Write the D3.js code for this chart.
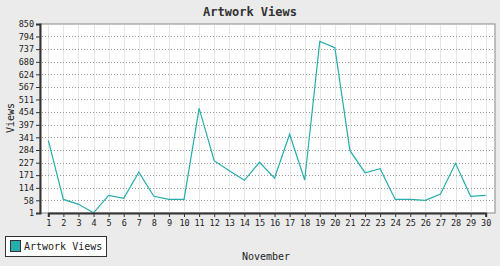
<!DOCTYPE html>
<html>
<head>
<meta charset="utf-8">
<script src="https://cdn.jsdelivr.net/npm/d3@7"></script>
<style>
  body { margin: 0; background: #ebebeb; }
  svg { display: block; }
</style>
</head>
<body>
<div id="chart"></div>
<script>
// data
var days = d3.range(1, 31)
var views = [327, 62, 40, 2, 80, 67, 184, 76, 62, 62,
             471, 236, 191, 148, 229, 158, 355, 149, 772, 744,
             281, 182, 200, 62, 62, 58, 86, 224, 76, 80]
var yTicks = [1, 58, 114, 171, 227, 284, 341, 397, 454, 511, 567, 624, 680, 737, 794, 850]
var seriesName = "Artwork Views"

var W = 500, H = 266
var plotL = 40, plotR = 495, plotT = 24, plotB = 213
var font = "'DejaVu Sans Mono', 'Liberation Mono', monospace"
var lineColor = "#27adab"

var svg = d3.select("#chart").append("svg").attr("width", W).attr("height", H)

svg.append("rect").attr("width", W).attr("height", H).attr("fill", "#ebebeb")
svg.append("rect")
  .attr("x", plotL).attr("y", plotT)
  .attr("width", plotR - plotL).attr("height", plotB - plotT)
  .attr("fill", "#fff").attr("stroke", "#999").attr("stroke-width", 1.2)

var xs = d3.scaleLinear().domain([1, 30]).range([48.3, 485.7])
var ys = d3.scaleLinear().domain([1, 850]).range([plotB, plotT])

// vertical grid
svg.append("g").selectAll("line").data(days).enter().append("line")
  .attr("x1", d => Math.round(xs(d)) + 0.5).attr("x2", d => Math.round(xs(d)) + 0.5)
  .attr("y1", plotT + 1).attr("y2", plotB)
  .attr("stroke", "#e6e6e6").attr("stroke-width", 1)

// horizontal dotted grid
svg.append("g").selectAll("line").data(yTicks.slice(1, -1)).enter().append("line")
  .attr("x1", plotL + 2).attr("x2", plotR)
  .attr("y1", d => Math.round(ys(d)) + 0.5).attr("y2", d => Math.round(ys(d)) + 0.5)
  .attr("stroke", "#999").attr("stroke-dasharray", "1,2")

// line
var line = d3.line().x((d, i) => xs(days[i])).y(d => ys(d))
svg.append("path").datum(views)
  .attr("d", line)
  .attr("fill", "none").attr("stroke", lineColor).attr("stroke-width", 1.2)

// axes
var yAxis = svg.append("g")
  .attr("transform", "translate(" + plotL + ",0)")
  .call(d3.axisLeft(ys).tickValues(yTicks).tickSize(4).tickPadding(2).tickFormat(d3.format("d")))
var xAxis = svg.append("g")
  .attr("transform", "translate(0," + plotB + ")")
  .call(d3.axisBottom(xs).tickValues(days).tickSize(4).tickPadding(3).tickFormat(d3.format("d")))

;[yAxis, xAxis].forEach(function (ax) {
  ax.select(".domain").attr("stroke", "#333").attr("stroke-width", 2)
  ax.selectAll(".tick line").attr("stroke", "#333")
  ax.selectAll("text").style("font-family", font).style("font-size", "8.5px").attr("fill", "#222")
})

// title and axis labels
svg.append("text").attr("x", 250).attr("y", 16).attr("text-anchor", "middle")
  .style("font-family", font).style("font-size", "12px").style("font-weight", "bold")
  .attr("fill", "#333").text("Artwork Views")

svg.append("text").attr("transform", "translate(14,118) rotate(-90)").attr("text-anchor", "middle")
  .style("font-family", font).style("font-size", "10px").attr("fill", "#222").text("Views")

svg.append("text").attr("x", 266).attr("y", 260).attr("text-anchor", "middle")
  .style("font-family", font).style("font-size", "10px").attr("fill", "#222").text("November")

// legend
var lg = svg.append("g")
lg.append("rect").attr("x", 5.5).attr("y", 236.5).attr("width", 101).attr("height", 20)
  .attr("fill", "#fff").attr("stroke", "#333").attr("stroke-width", 1)
lg.append("rect").attr("x", 10.5).attr("y", 240.5).attr("width", 10).attr("height", 11)
  .attr("fill", lineColor).attr("stroke", "#333").attr("stroke-width", 1)
lg.append("text").attr("x", 24).attr("y", 250)
  .style("font-family", font).style("font-size", "10px").attr("fill", "#222").text(seriesName)
</script>
</body>
</html>
